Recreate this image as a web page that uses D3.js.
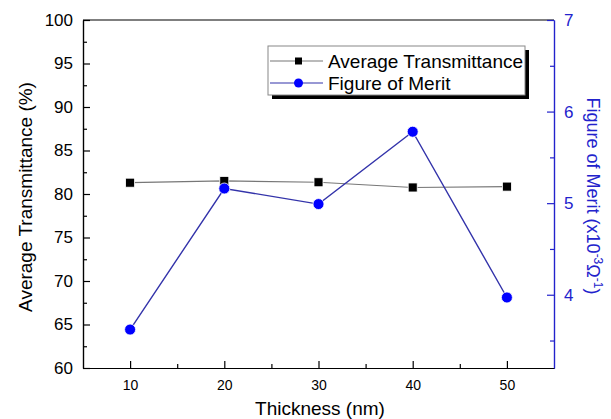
<!DOCTYPE html>
<html>
<head>
<meta charset="utf-8">
<script src="https://cdn.jsdelivr.net/npm/d3@7"></script>
<style>
  body { margin: 0; background: #fff; }
  text { font-family: "Liberation Sans", Arial, sans-serif; }
</style>
</head>
<body>
<div id="chart"></div>
<script>
// data
var thickness = [10, 20, 30, 40, 50];
var transmittance = [81.3, 81.5, 81.35, 80.75, 80.85];
var figureOfMerit = [3.62, 5.16, 4.99, 5.78, 3.97];
var leftTicks = [60, 65, 70, 75, 80, 85, 90, 95, 100];
var rightTicks = [4, 5, 6, 7];
var xTicks = [10, 20, 30, 40, 50];

var width = 611, height = 419;
var margin = {top: 20, right: 57, bottom: 51, left: 83};
var w = width - margin.left - margin.right;
var h = height - margin.top - margin.bottom;
var blue = "#0000ff", lineBlue = "#3333aa", axisBlue = "#2222cc";

var svg = d3.select("#chart").append("svg")
   .attr("width", width).attr("height", height);
var g = svg.append("g")
   .attr("transform", "translate(" + margin.left + "," + margin.top + ")");

var x = d3.scaleLinear().domain([5, 55]).range([0, w]);
var yL = d3.scaleLinear().domain([60, 100]).range([h, 0]);
var yR = d3.scaleLinear().domain([3.2, 7]).range([h, 0]);

// frame: top line
g.append("line").attr("x1", 0).attr("x2", w).attr("y1", 0).attr("y2", 0)
   .attr("stroke", "#000").attr("stroke-width", 1.2);

// minor ticks
var minorX = g.append("g").attr("transform", "translate(0," + h + ")")
   .call(d3.axisBottom(x).tickValues([15, 25, 35, 45]).tickSizeInner(-4).tickSizeOuter(0).tickFormat(""));
var minorL = g.append("g")
   .call(d3.axisLeft(yL).tickValues([62.5, 67.5, 72.5, 77.5, 82.5, 87.5, 92.5, 97.5]).tickSizeInner(-4).tickSizeOuter(0).tickFormat(""));
var minorR = g.append("g").attr("transform", "translate(" + w + ",0)")
   .call(d3.axisRight(yR).tickValues([3.5, 4.5, 5.5, 6.5]).tickSizeInner(-4).tickSizeOuter(0).tickFormat(""));

// main axes
var xAxis = g.append("g").attr("transform", "translate(0," + h + ")")
   .call(d3.axisBottom(x).tickValues(xTicks).tickSizeInner(-7).tickSizeOuter(0).tickPadding(12));
var lAxis = g.append("g")
   .call(d3.axisLeft(yL).tickValues(leftTicks).tickSizeInner(-7).tickSizeOuter(0).tickPadding(10));
var rAxis = g.append("g").attr("transform", "translate(" + w + ",0)")
   .call(d3.axisRight(yR).tickValues(rightTicks).tickFormat(d3.format("d"))
      .tickSizeInner(-7).tickSizeOuter(0).tickPadding(10));

[xAxis, lAxis, minorX, minorL].forEach(function(a) {
   a.selectAll("path, line").attr("stroke", "#000").attr("stroke-width", 1.2);
});
[rAxis, minorR].forEach(function(a) {
   a.selectAll("path, line").attr("stroke", axisBlue).attr("stroke-width", 1.2);
});
xAxis.selectAll("text").attr("font-size", 14).attr("fill", "#000");
lAxis.selectAll("text").attr("font-size", 17).attr("fill", "#000");
rAxis.selectAll("text").attr("font-size", 17).attr("fill", axisBlue);

// axis titles
svg.append("text")
   .attr("x", 320).attr("y", 415)
   .attr("text-anchor", "middle").attr("font-size", 19)
   .text("Thickness (nm)");
svg.append("text")
   .attr("transform", "translate(32," + (margin.top + h / 2 + 3) + ") rotate(-90)")
   .attr("text-anchor", "middle").attr("font-size", 19)
   .text("Average Transmittance (%)");
var rt = svg.append("text")
   .attr("transform", "translate(587," + (margin.top + h / 2 + 2) + ") rotate(90)")
   .attr("text-anchor", "middle").attr("font-size", 18).attr("fill", axisBlue);
rt.append("tspan").text("Figure of Merit (x10");
rt.append("tspan").attr("font-size", 12).attr("dy", -7).text("-3");
rt.append("tspan").attr("dy", 7).text("\u03a9");
rt.append("tspan").attr("font-size", 12).attr("dy", -7).text("-1");
rt.append("tspan").attr("dy", 7).text(")");

// series
var tData = thickness.map(function(d, i) { return {x: d, y: transmittance[i]}; });
var fData = thickness.map(function(d, i) { return {x: d, y: figureOfMerit[i]}; });

g.append("path").datum(tData)
   .attr("fill", "none").attr("stroke", "#777").attr("stroke-width", 1.2)
   .attr("d", d3.line().x(function(d) { return x(d.x); }).y(function(d) { return yL(d.y); }));
g.append("path").datum(fData)
   .attr("fill", "none").attr("stroke", lineBlue).attr("stroke-width", 1.4)
   .attr("d", d3.line().x(function(d) { return x(d.x); }).y(function(d) { return yR(d.y); }));

g.selectAll(".sq").data(tData).enter().append("rect").attr("class", "sq")
   .attr("x", function(d) { return x(d.x) - 4.5; })
   .attr("y", function(d) { return yL(d.y) - 4.5; })
   .attr("width", 9).attr("height", 9)
   .attr("fill", "#000").attr("stroke", "#fff").attr("stroke-width", 0.8);
g.selectAll(".dot").data(fData).enter().append("circle").attr("class", "dot")
   .attr("cx", function(d) { return x(d.x); })
   .attr("cy", function(d) { return yR(d.y); })
   .attr("r", 5.5)
   .attr("fill", blue).attr("stroke", "#fff").attr("stroke-width", 0.8);

// legend
var lg = svg.append("g").attr("transform", "translate(268,46)");
lg.append("rect").attr("x", 4).attr("y", 4).attr("width", 257).attr("height", 49).attr("fill", "#000");
lg.append("rect").attr("x", 0).attr("y", 0).attr("width", 257).attr("height", 49)
   .attr("fill", "#fff").attr("stroke", "#888").attr("stroke-width", 1);
var items = [
   {name: "Average Transmittance", color: "#777", mark: "sq"},
   {name: "Figure of Merit", color: lineBlue, mark: "dot"}
];
items.forEach(function(it, i) {
   var yy = 15 + i * 22;
   lg.append("line").attr("x1", 2).attr("x2", 55).attr("y1", yy).attr("y2", yy)
      .attr("stroke", it.color).attr("stroke-width", 1.2);
   if (it.mark == "sq") {
      lg.append("rect").attr("x", 27).attr("y", yy - 3.5).attr("width", 7).attr("height", 7).attr("fill", "#000");
   } else {
      lg.append("circle").attr("cx", 30.5).attr("cy", yy).attr("r", 4.5).attr("fill", blue);
   }
   lg.append("text").attr("x", 60).attr("y", yy + 7).attr("font-size", 19).text(it.name);
});
</script>
</body>
</html>
